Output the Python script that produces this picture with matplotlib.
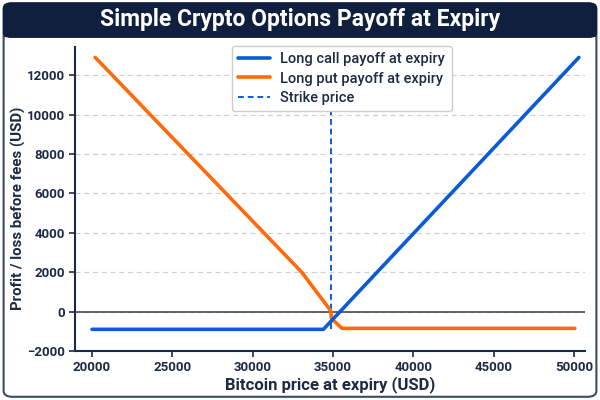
import matplotlib
matplotlib.use("Agg")
import matplotlib.pyplot as plt
from matplotlib.patches import FancyBboxPatch, Rectangle

plt.rcParams['font.family'] = ['Roboto', 'DejaVu Sans']

# Data
call_x = [20000, 34400, 50300]
call_y = [-900, -900, 12900]
put_x = [20200, 33050, 34850, 34900, 35550, 50050]
put_y = [12900, 2000, 50, -350, -850, -850]
strike = 34900
yticks = [-2000, 0, 2000, 4000, 6000, 8000, 10000, 12000]
xticks = [20000, 25000, 30000, 35000, 40000, 45000, 50000]

navy = '#0f1f3d'
blue = '#0b5bd9'
orange = '#ff6a0d'
text_c = '#1c2a44'

fig = plt.figure(figsize=(6, 4), dpi=100)
fig.patch.set_facecolor('white')

# outer rounded border
border = FancyBboxPatch((0.006, 0.008), 0.988, 0.984, boxstyle="round,pad=0,rounding_size=0.015",
                        transform=fig.transFigure, facecolor='none', edgecolor='#3b4a66', lw=1.5, zorder=0)
fig.patches.append(border)
banner = FancyBboxPatch((0.006, 0.907), 0.988, 0.085, boxstyle="round,pad=0,rounding_size=0.012",
                        transform=fig.transFigure, facecolor=navy, edgecolor=navy, lw=1.0, zorder=1)
fig.patches.append(banner)
fig.patches.append(Rectangle((0.006, 0.907), 0.988, 0.03, transform=fig.transFigure,
                             facecolor=navy, edgecolor='none', zorder=1))
fig.text(0.5, 0.952, 'Simple Crypto Options Payoff at Expiry', color='white', fontsize=16.5,
         fontweight='bold', ha='center', va='center', zorder=3)

ax = fig.add_axes([0.125, 0.1225, 0.85, 0.7605])
ax.set_zorder(5)
ax.set_facecolor('none')

ax.plot(call_x, call_y, color=blue, lw=2.6, label='Long call payoff at expiry', zorder=4,
        solid_capstyle='round')
ax.plot(put_x, put_y, color=orange, lw=2.6, label='Long put payoff at expiry', zorder=3,
        solid_capstyle='round')
ax.vlines(strike, -900, 13440, colors=blue, linestyles=(0, (3, 2)), lw=1.4, label='Strike price', zorder=2)
ax.axhline(0, color='#4a4a4a', lw=1.2, zorder=1)

ax.set_xlim(18940, 50680)
ax.set_ylim(-2000, 13440)
ax.set_xticks(xticks)
ax.set_yticks(yticks)
ax.yaxis.grid(True, color='#d0d0d0', linestyle=(0, (4, 3)), lw=0.9)
ax.set_axisbelow(True)

for s in ['top', 'right']:
    ax.spines[s].set_visible(False)
for s in ['left', 'bottom']:
    ax.spines[s].set_color(text_c)
    ax.spines[s].set_linewidth(1.5)
ax.tick_params(colors=text_c, labelsize=9.5, width=1.2, length=4)
for lab in ax.get_xticklabels() + ax.get_yticklabels():
    lab.set_fontweight('semibold')
    lab.set_color(text_c)

ax.set_xlabel('Bitcoin price at expiry (USD)', fontsize=12, fontweight='bold', color=text_c, labelpad=1)
ax.set_ylabel('Profit / loss before fees (USD)', fontsize=10.8, fontweight='bold', color=text_c)
ax.yaxis.set_label_coords(-0.097, 0.47)

leg = ax.legend(loc='upper left', bbox_to_anchor=(0.307, 1.003), borderaxespad=0, fontsize=10.5,
                frameon=True, fancybox=True, framealpha=1, edgecolor='#cccccc', handlelength=2.2,
                handletextpad=0.7, labelspacing=0.35, borderpad=0.45)
for t in leg.get_texts():
    t.set_color(text_c)
    t.set_fontweight('medium')
leg.set_zorder(10)

fig.savefig('out.png', dpi=100)
